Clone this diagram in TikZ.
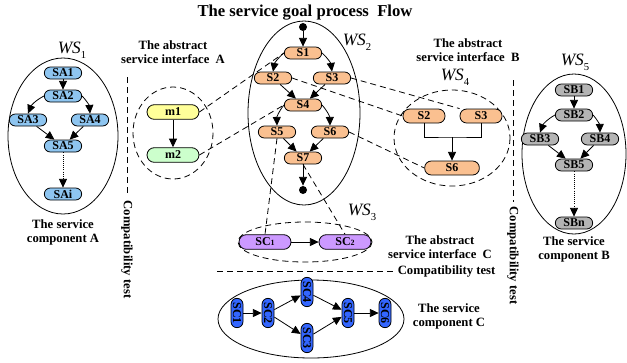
\documentclass[tikz,border=0pt]{standalone}
\usepackage{fontspec}
\setmainfont{Liberation Serif}
\usetikzlibrary{arrows.meta}

\definecolor{compA}{RGB}{142,197,240}
\definecolor{ifaceone}{RGB}{255,255,153}
\definecolor{ifacetwo}{RGB}{204,255,204}
\definecolor{goal}{RGB}{250,192,144}
\definecolor{compB}{RGB}{180,180,180}
\definecolor{ifaceC}{RGB}{204,153,255}
\definecolor{compC}{RGB}{51,102,255}

\newcommand{\wslabel}[1]{\textit{WS}\raisebox{-0.6ex}{\fontsize{8}{8}\selectfont #1}}
\newcommand{\smalldigit}[1]{{\fontsize{6}{6}\selectfont #1}}

\begin{document}
\begin{tikzpicture}[x=0.75pt,y=-0.75pt,line width=0.6pt,
    state/.style={draw,rounded corners=4.5pt,inner sep=0pt,minimum width=28pt,
      minimum height=9pt,font=\fontsize{9}{9}\selectfont\bfseries},
    big/.style={minimum width=39pt,minimum height=11pt,rounded corners=5.5pt},
    vstate/.style={state,fill=compC,rotate=-90,minimum width=22pt,minimum height=9pt},
    flow/.style={-{Triangle[length=6.5pt,width=6pt]}},
    link/.style={dash pattern=on 4.5pt off 3pt},
    note/.style={font=\fontsize{9.5}{10.5}\selectfont\bfseries,align=center},
    wsname/.style={font=\fontsize{13}{13}\selectfont},
    dot/.style={circle,fill,inner sep=0pt,minimum size=6pt}]
    \useasboundingbox (0,0) rectangle (627,362);

    % Title
    \node[font=\fontsize{12.5}{14}\selectfont\bfseries] (title) at (305,13) {The service goal process~ Flow};

    % Service component A
    \draw (63,136) ellipse (55 and 78);
    \node[wsname] (ws1) at (72,50) {\wslabel{1}};
    \node[state,fill=compA] (SA1) at (63,73) {SA1};
    \node[state,fill=compA] (SA2) at (63,96) {SA2};
    \node[state,fill=compA] (SA3) at (28,120) {SA3};
    \node[state,fill=compA] (SA4) at (90,120) {SA4};
    \node[state,fill=compA] (SA5) at (63,146) {SA5};
    \node[state,fill=compA] (SAi) at (63,194) {SAi};
    \draw[flow] (SA1) -- (SA2);
    \draw[flow] (SA2.west) to[bend right=20] (SA3.north);
    \draw[flow] (SA2.east) to[bend left=20] (SA4.north);
    \draw[flow] (SA3) -- (SA5);
    \draw[flow] (SA4) -- (SA5);
    \draw[flow,densely dotted] (SA5) -- (SAi);
    \node[note] (capA) at (63,232) {The service\\component A};

    % Compatibility test, left
    \coordinate (leftTop) at (127,77);
    \node[note,rotate=-90,anchor=west] (testA) at (127,196) {Compatibility test};
    \draw[link] (leftTop) -- (testA.west);

    % Abstract interface A
    \node[note] (ifA) at (173,52) {The abstract\\service interface~ A};
    \draw[link] (173,133) ellipse (40 and 46);
    \node[state,big,fill=ifaceone] (m1) at (173,112) {m1};
    \node[state,big,fill=ifacetwo] (m2) at (173,155) {m2};
    \draw[flow] (m1) -- (m2);

    % Goal process WS2
    \draw (304,113) ellipse (56 and 92);
    \node[wsname] (ws2) at (357,42) {\wslabel{2}};
    \node[dot] (start) at (303,27) {};
    \node[state,fill=goal] (S1) at (303,53) {S1};
    \node[state,fill=goal] (S2) at (273,78) {S2};
    \node[state,fill=goal] (S3) at (332,78) {S3};
    \node[state,fill=goal] (S4) at (303,105) {S4};
    \node[state,fill=goal] (S5) at (277,132) {S5};
    \node[state,fill=goal] (S6) at (330,132) {S6};
    \node[state,fill=goal] (S7) at (303,158) {S7};
    \node[dot] (stop) at (303,190) {};
    \draw[flow] (start) -- (S1);
    \draw[flow] (S1.west) to[bend right=20] (S2.north);
    \draw[flow] (S1.east) to[bend left=20] (S3.north);
    \draw[flow] (S2) -- (S4);
    \draw[flow] (S3) -- (S4);
    \draw[flow] (S4.west) to[bend right=20] (S5.north);
    \draw[flow] (S4.east) to[bend left=20] (S6.north);
    \draw[flow] (S5) -- (S7);
    \draw[flow] (S6) -- (S7);
    \draw[flow] (S7) -- (stop);

    % Abstract interface B
    \node[note] (ifB) at (468,50) {The abstract\\service interface~ B};
    \draw[link] (452,138) ellipse (58 and 48);
    \node[wsname] (ws4) at (455,77) {\wslabel{4}};
    \node[state,fill=goal,minimum width=31.5pt,minimum height=10.5pt,rounded corners=5pt] (S2b) at (424,116) {S2};
    \node[state,fill=goal,minimum width=31.5pt,minimum height=10.5pt,rounded corners=5pt] (S3b) at (481,116) {S3};
    \node[state,fill=goal,minimum width=41pt,minimum height=10.5pt,rounded corners=5pt] (S6b) at (452,168) {S6};
    \coordinate (join) at (452,137);
    \draw (S2b.south) |- (join) -| (S3b.south);
    \draw[flow] (join) -- (S6b);

    % Compatibility test, right
    \coordinate (rightTop) at (513,80);
    \node[note,rotate=-90,anchor=west] (testB) at (513,202) {Compatibility test};
    \draw[link] (rightTop) -- (testB.west);

    % Service component B
    \draw (574,154) ellipse (52 and 80);
    \node[wsname] (ws5) at (575,62) {\wslabel{5}};
    \node[state,fill=compB] (SB1) at (574,90) {SB1};
    \node[state,fill=compB] (SB2) at (574,115) {SB2};
    \node[state,fill=compB] (SB3) at (540,139) {SB3};
    \node[state,fill=compB] (SB4) at (600,139) {SB4};
    \node[state,fill=compB] (SB5) at (574,165) {SB5};
    \node[state,fill=compB] (SBn) at (574,223) {SBn};
    \draw[flow] (SB1) -- (SB2);
    \draw[flow] (SB2.west) to[bend right=20] (SB3.north);
    \draw[flow] (SB2.east) to[bend left=20] (SB4.north);
    \draw[flow] (SB3) -- (SB5);
    \draw[flow] (SB4) -- (SB5);
    \draw[flow,densely dotted] (SB5) -- (SBn);
    \node[note] (capB) at (574,249) {The service\\component B};

    % Abstract interface C
    \draw[link] (305,242) ellipse (67 and 20);
    \node[wsname] (ws3) at (362,212) {\wslabel{3}};
    \node[state,big,fill=ifaceC] (sc1) at (265,242) {SC\smalldigit{1}};
    \node[state,big,fill=ifaceC] (sc2) at (345,242) {SC\smalldigit{2}};
    \draw[flow] (sc1) -- (sc2);
    \node[note] (ifC) at (440,247) {The abstract\\service interface~ C};

    % Mappings between the interfaces and the goal process
    \draw[link] (m1.east) -- (S1.west);
    \draw[link] (m2.east) -- (S4.west);
    \draw[link] (S2.east) -- (S2b.west);
    \draw[link] (S3.east) -- (S3b.north west);
    \draw[link] (S6.east) -- (S6b.west);
    \draw[link] (S5.south) -- (sc1.north);
    \draw[link] (S7.south) -- (sc2.north);

    % Compatibility test, bottom
    \coordinate (testL) at (217,271);
    \node[note,anchor=west] (testC) at (393,271) {Compatibility test};
    \draw[link] (testL) -- (testC.west);

    % Service component C
    \draw (311,319) ellipse (93 and 39);
    \node[vstate] (c1) at (237,313) {SC1};
    \node[vstate] (c2) at (268,313) {SC2};
    \node[vstate] (c4) at (307,292) {SC4};
    \node[vstate] (c3) at (307,338) {SC3};
    \node[vstate] (c5) at (348,313) {SC5};
    \node[vstate] (c6) at (385,313) {SC6};
    \draw[flow] (c1) -- (c2);
    \draw[flow] (c2) -- (c4);
    \draw[flow] (c2) -- (c3);
    \draw[flow] (c4) -- (c5);
    \draw[flow] (c3) -- (c5);
    \draw[flow] (c5) -- (c6);
    \node[note] (capC) at (449,316) {The service\\component C};
\end{tikzpicture}
\end{document}
